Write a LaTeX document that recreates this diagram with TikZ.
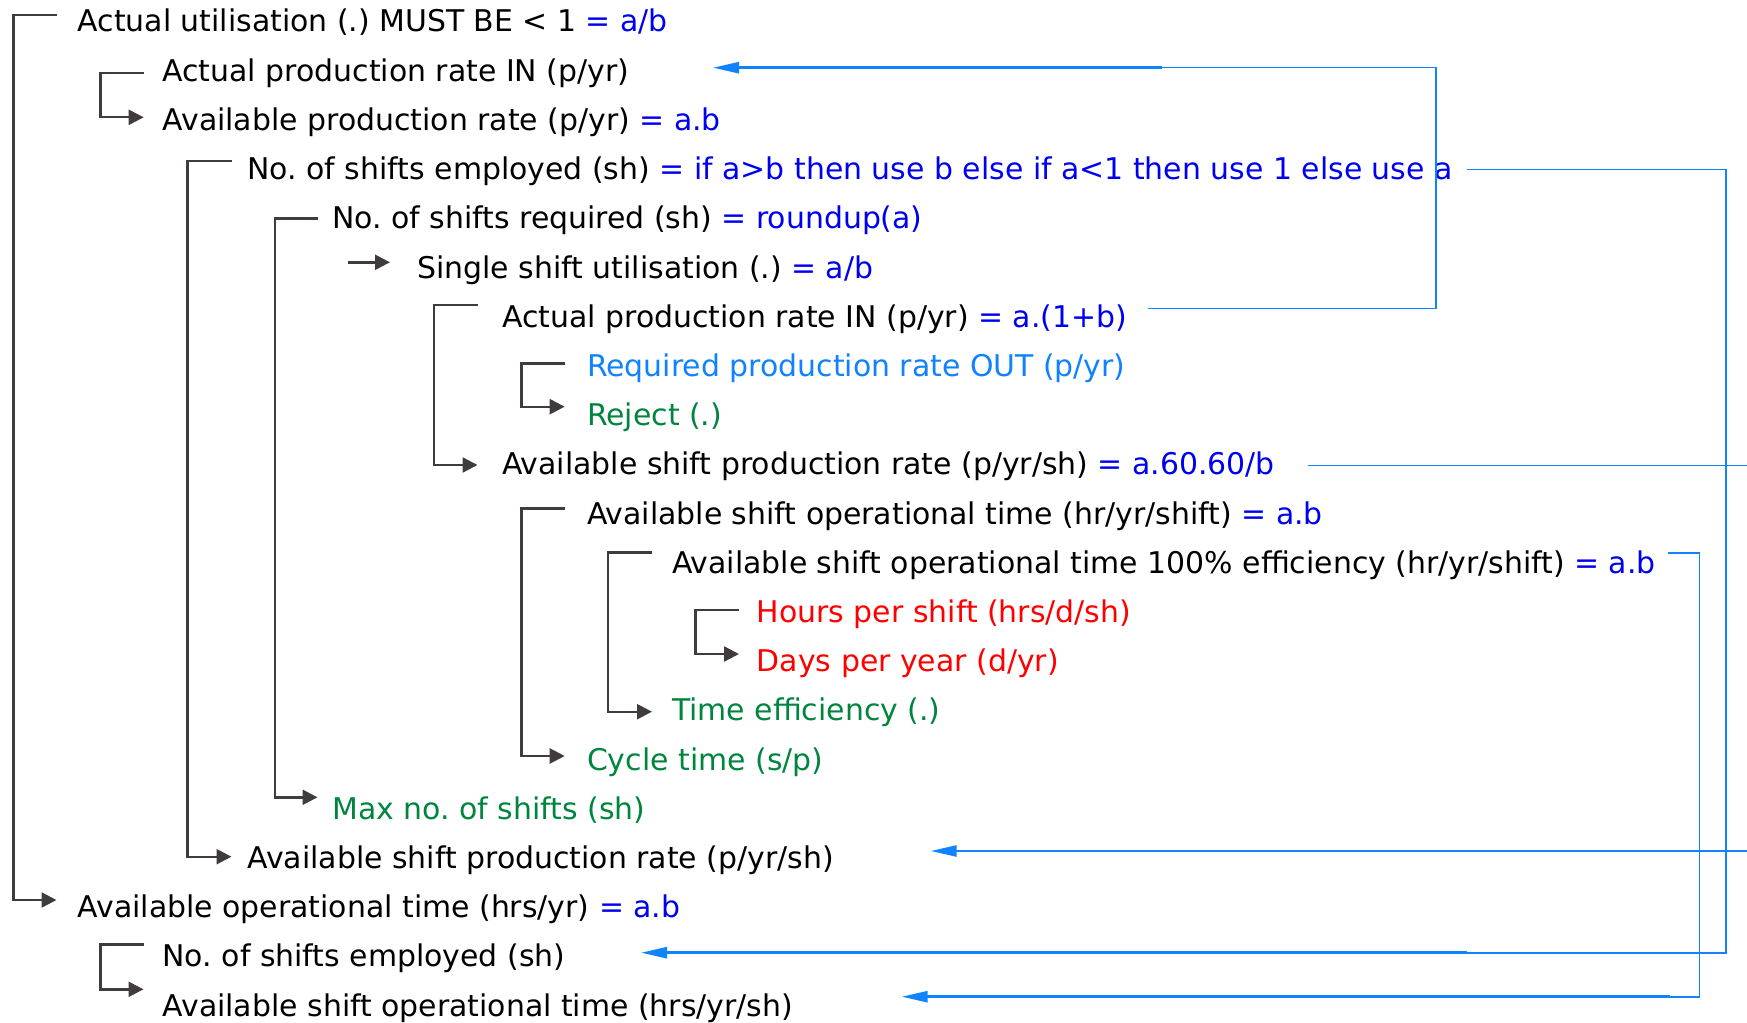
\documentclass[tikz,border=0pt]{standalone}
\usepackage{fontspec}
\setmainfont{DejaVu Sans}
\usetikzlibrary{arrows.meta}
\definecolor{fblue}{RGB}{0,0,240}
\definecolor{lblue}{RGB}{16,130,255}
\definecolor{cblue}{RGB}{16,132,255}
\definecolor{fgreen}{RGB}{0,133,62}
\definecolor{fred}{RGB}{255,0,0}
\definecolor{dark}{RGB}{64,60,59}
\tikzset{
  txt/.style={anchor=base west, inner sep=0pt, font=\frenchspacing\fontsize{29.9}{35}\selectfont, text=black},
  brk/.style={draw=dark, line width=2.4pt},
  brkarrow/.style={brk, -{Triangle[length=15pt,width=15pt]}},
  conn/.style={draw=cblue, line width=1.6pt},
  connarrow/.style={draw=cblue, line width=2.6pt, -{Triangle[length=26pt,width=11pt]}}
}
\newcommand{\fm}[1]{\textcolor{fblue}{#1}}
\begin{document}
\begin{tikzpicture}[x=1pt,y=-1pt]
\useasboundingbox (0,0) rectangle (1747,1022);
% text rows
\node[txt] (r1)  at (77.5,32)    {Actual utilisation (.) MUST BE < 1 \fm{= a/b}};
\node[txt] (r2)  at (162.4,81.2) {Actual production rate IN (p/yr)};
\node[txt] (r3)  at (162.4,130.4){Available production rate (p/yr) \fm{= a.b}};
\node[txt] (r4)  at (247.3,179.6){No. of shifts employed (sh) \fm{= if a>b then use b else if a<1 then use 1 else use a}};
\node[txt] (r5)  at (332.2,228.8){No. of shifts required (sh) \fm{= roundup(a)}};
\node[txt] (r6)  at (417.1,278)  {Single shift utilisation (.) \fm{= a/b}};
\node[txt] (r7)  at (502,327.2)  {Actual production rate IN (p/yr) \fm{= a.(1+b)}};
\node[txt,text=lblue] (r8)  at (586.9,376.4){Required production rate OUT (p/yr)};
\node[txt,text=fgreen] (r9)  at (586.9,425.6){Reject (.)};
\node[txt] (r10) at (502,474.8)  {Available shift production rate (p/yr/sh) \fm{= a.60.60/b}};
\node[txt] (r11) at (586.9,524)  {Available shift operational time (hr/yr/shift) \fm{= a.b}};
\node[txt] (r12) at (671.8,573.2){Available shift operational time 100\% efficiency (hr/yr/shift) \fm{= a.b}};
\node[txt,text=fred] (r13) at (756.7,622.4){Hours per shift (hrs/d/sh)};
\node[txt,text=fred] (r14) at (756.7,671.6){Days per year (d/yr)};
\node[txt,text=fgreen] (r15) at (671.8,720.8){Time efficiency (.)};
\node[txt,text=fgreen] (r16) at (586.9,770){Cycle time (s/p)};
\node[txt,text=fgreen] (r17) at (332.2,819.2){Max no. of shifts (sh)};
\node[txt] (r18) at (247.3,868.4){Available shift production rate (p/yr/sh)};
\node[txt] (r19) at (77.5,917.6) {Available operational time (hrs/yr) \fm{= a.b}};
\node[txt] (r20) at (162.4,966.8){No. of shifts employed (sh)};
\node[txt] (r21) at (162.4,1016) {Available shift operational time (hrs/yr/sh)};
% bracket end points
\coordinate (b1t) at (56.5,15);    \coordinate (b1e) at (56.5,900);
\coordinate (b2t) at (143.7,73.3); \coordinate (b2e) at (143.7,117.3);
\coordinate (b3t) at (231.5,160.7);\coordinate (b3e) at (231.5,856.7);
\coordinate (b4t) at (317.5,218.3);\coordinate (b4e) at (317.5,797.3);
\coordinate (b5t) at (477.5,305);  \coordinate (b5e) at (477.5,465);
\coordinate (b6t) at (564.7,363.3);\coordinate (b6e) at (564.7,406.7);
\coordinate (b7t) at (564.7,508.3);\coordinate (b7e) at (564.7,756);
\coordinate (b8t) at (652,552.3);  \coordinate (b8e) at (652,711.7);
\coordinate (b9t) at (739,610);    \coordinate (b9e) at (739,654);
\coordinate (b10t) at (143.5,944.3);\coordinate (b10e) at (143.5,989.3);
\coordinate (s6a) at (348,262.3);  \coordinate (s6e) at (390,262.3);
% brackets
\draw[brkarrow] (b1t) -- ++(-43,0) |- (b1e);
\draw[brkarrow] (b2t) -- ++(-43.4,0) |- (b2e);
\draw[brkarrow] (b3t) -- ++(-43.9,0) |- (b3e);
\draw[brkarrow] (b4t) -- ++(-42.5,0) |- (b4e);
\draw[brkarrow] (b5t) -- ++(-43.5,0) |- (b5e);
\draw[brkarrow] (b6t) -- ++(-43.1,0) |- (b6e);
\draw[brkarrow] (b7t) -- ++(-43.1,0) |- (b7e);
\draw[brkarrow] (b8t) -- ++(-44,0) |- (b8e);
\draw[brkarrow] (b9t) -- ++(-43.4,0) |- (b9e);
\draw[brkarrow] (b10t) -- ++(-43,0) |- (b10e);
\draw[brkarrow] (s6a) -- (s6e);
% blue connectors
\coordinate (c1s) at (1148,308.3);  \coordinate (c1k) at (1161.7,67.7); \coordinate (c1e) at (713,67.7);
\draw[conn] (c1s) -| (1435.7,67.7) -- (c1k);
\draw[connarrow] (c1k) -- (c1e);
\coordinate (c2s) at (1466.7,169.3); \coordinate (c2k) at (1467,952.7); \coordinate (c2e) at (641,952.7);
\draw[conn] (c2s) -| (1726,952.7) -- (c2k);
\draw[connarrow] (c2k) -- (c2e);
\coordinate (c3s) at (1307.7,465.3); \coordinate (c3e) at (1747,465.3);
\draw[conn] (c3s) -- (c3e);
\coordinate (c4s) at (1747,851); \coordinate (c4k) at (1307,851); \coordinate (c4e) at (930.7,851);
\draw[conn] (c4s) -- (c4k);
\draw[connarrow] (c4k) -- (c4e);
\coordinate (c5s) at (1668,552.7); \coordinate (c5k) at (1670,996.7); \coordinate (c5e) at (901.7,996.7);
\draw[conn] (c5s) -| (1699.3,996.7) -- (c5k);
\draw[connarrow] (c5k) -- (c5e);
\end{tikzpicture}
\end{document}
